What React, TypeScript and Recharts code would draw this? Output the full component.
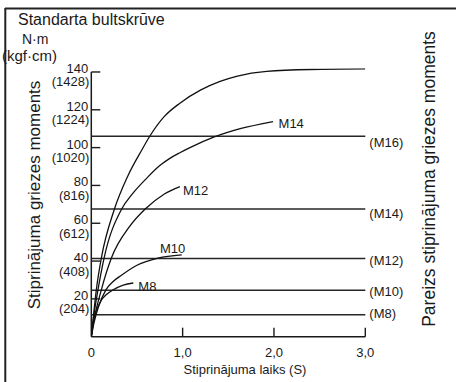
import React from "react";
import { LineChart, Line, XAxis, YAxis, ReferenceLine } from "recharts";

// time (s) / torque (N·m)
const m16Time = [0, 0.03, 0.055, 0.11, 0.25, 0.4, 0.55, 0.64, 0.8, 0.97, 1.2, 1.41, 1.6, 1.92, 2.4, 3.0];
const m16Torque = [0, 14, 24.8, 41.6, 67, 85, 98.5, 106, 116.5, 123.5, 130.5, 135, 137.8, 140.3, 141.3, 141.6];

const m14Time = [0, 0.03, 0.073, 0.14, 0.33, 0.45, 0.61, 0.75, 0.86, 0.97, 1.08, 1.34, 1.63, 1.99];
const m14Torque = [0, 12, 24.8, 41.6, 67.3, 75.5, 84, 90.5, 94.3, 97.3, 100, 105.5, 110, 113.8];

const m12Time = [0, 0.03, 0.11, 0.22, 0.42, 0.59, 0.8, 0.97];
const m12Torque = [0, 9, 24.8, 41.6, 58.3, 67.5, 75.5, 79.4];

const m10Time = [0, 0.03, 0.08, 0.16, 0.23, 0.33, 0.5, 0.73, 0.99];
const m10Torque = [0, 7.5, 16, 24.8, 28.8, 32.5, 37.8, 41.6, 43.3];

const m8Time = [0, 0.02, 0.05, 0.1, 0.17, 0.24, 0.35, 0.46];
const m8Torque = [0, 7, 13, 18.5, 22.5, 24.8, 27.3, 28.4];

// correct tightening torque per bolt
const specNames = ["(M16)", "(M14)", "(M12)", "(M10)", "(M8)"];
const specTorque = [106, 67.5, 41.3, 24.5, 11.6];

const yTicks = [20, 40, 60, 80, 100, 120, 140];
const yKgfLabels = ["(204)", "(408)", "(612)", "(816)", "(1020)", "(1224)", "(1428)"];
const xTicks = [0, 1, 2, 3];
const xTickLabels = ["0", "1,0", "2,0", "3,0"];

const toPoints = (xs: number[], ys: number[]) => xs.map((x, i) => ({ x, y: ys[i] }));

const series = [
  { name: "M16", data: toPoints(m16Time, m16Torque) },
  { name: "M14", data: toPoints(m14Time, m14Torque) },
  { name: "M12", data: toPoints(m12Time, m12Torque) },
  { name: "M10", data: toPoints(m10Time, m10Torque) },
  { name: "M8", data: toPoints(m8Time, m8Torque) },
];

// where each curve's name sits relative to its last point
const endLabelPos: Record<string, { dx: number; dy: number; anchor: string }> = {
  M16: { dx: 2, dy: -10.5, anchor: "end" },
  M14: { dx: 5.5, dy: 6, anchor: "start" },
  M12: { dx: 3, dy: 8.5, anchor: "start" },
  M10: { dx: 3.5, dy: -2, anchor: "end" },
  M8: { dx: 5, dy: 8, anchor: "start" },
};
const specLabelDy = [10.5, 8.5, 6.5, 5.5, 3.5];

const FONT = "'Liberation Sans', Arial, Helvetica, sans-serif";
const INK = "#1a1a1a";

const YTick = (props: any) => {
  const { x, y, payload } = props;
  const i = yTicks.indexOf(payload.value);
  return (
    <g>
      <line x1={x + 3} x2={x + 12} y1={y} y2={y} stroke={INK} strokeWidth={1.4} />
      <text x={x} y={y + 1} textAnchor="end" fontSize={13} fill={INK} fontFamily={FONT}>
        {payload.value}
      </text>
      <text x={x + 1} y={y + 14.5} textAnchor="end" fontSize={13} fill={INK} fontFamily={FONT}>
        {yKgfLabels[i]}
      </text>
    </g>
  );
};

const XTick = (props: any) => {
  const { x, y, payload } = props;
  const i = xTicks.indexOf(payload.value);
  return (
    <g>
      {payload.value !== 0 && (
        <line x1={x} x2={x} y1={y} y2={y - 9} stroke={INK} strokeWidth={1.4} />
      )}
      <text x={x} y={y + 20} textAnchor="middle" fontSize={13} fill={INK} fontFamily={FONT}>
        {xTickLabels[i]}
      </text>
    </g>
  );
};

const SpecLabel = (props: any) => {
  const { viewBox, text, dy } = props;
  if (!viewBox) return null;
  return (
    <text
      x={viewBox.x + viewBox.width + 4}
      y={viewBox.y + dy}
      fontSize={13}
      fill={INK}
      fontFamily={FONT}
    >
      {text}
    </text>
  );
};

const endLabelDot = (name: string, lastIndex: number) => (props: any) => {
  const { cx, cy, index } = props;
  if (index !== lastIndex) return <g key={`d-${name}-${index}`} />;
  const p = endLabelPos[name];
  return (
    <text
      key={`d-${name}-${index}`}
      x={cx + p.dx}
      y={cy + p.dy}
      textAnchor={p.anchor as any}
      fontSize={13}
      fill={INK}
      fontFamily={FONT}
    >
      {name}
    </text>
  );
};

export default function App() {
  return (
    <div
      style={{
        position: "absolute",
        left: 0,
        top: 0,
        width: 456,
        height: 382,
        background: "#fff",
        fontFamily: FONT,
      }}
    >
      <LineChart
        width={456}
        height={382}
        margin={{ top: 68.2, right: 90.7, bottom: 0, left: 0 }}
      >
        <XAxis
          type="number"
          dataKey="x"
          domain={[0, 3]}
          ticks={xTicks}
          allowDataOverflow
          height={45.3}
          tickLine={false}
          tickSize={0}
          tickMargin={0}
          axisLine={{ stroke: INK, strokeWidth: 1.5 }}
          tick={<XTick />}
          interval={0}
        />
        <YAxis
          type="number"
          dataKey="y"
          domain={[0, 142]}
          ticks={yTicks}
          allowDataOverflow
          width={91.3}
          tickLine={false}
          tickSize={0}
          tickMargin={3}
          axisLine={false}
          tick={<YTick />}
          interval={0}
        />
        {/* y axis line stops at the 140 tick */}
        <ReferenceLine
          segment={[
            { x: 0, y: 0 },
            { x: 0, y: yTicks[yTicks.length - 1] },
          ]}
          stroke={INK}
          strokeWidth={1.5}
        />
        {specTorque.map((v, i) => (
          <ReferenceLine
            key={specNames[i]}
            y={v}
            stroke="#262626"
            strokeWidth={1.5}
            label={<SpecLabel text={specNames[i]} dy={specLabelDy[i]} />}
          />
        ))}
        {series.map((s) => (
          <Line
            key={s.name}
            data={s.data}
            dataKey="y"
            type="monotone"
            stroke="#111"
            strokeWidth={1.3}
            dot={endLabelDot(s.name, s.data.length - 1)}
            activeDot={false}
            isAnimationActive={false}
          />
        ))}
      </LineChart>
      <svg
        width={456}
        height={382}
        style={{ position: "absolute", left: 0, top: 0, pointerEvents: "none" }}
      >
        <line x1={5} y1={8.5} x2={456} y2={8.5} stroke="#222" strokeWidth={2} />
        <line x1={5.3} y1={8} x2={5.3} y2={382} stroke="#222" strokeWidth={2} />
        <text x={18} y={24.5} fontSize={16} fill={INK} fontFamily={FONT}>
          Standarta bultskrūve
        </text>
        <text x={22} y={44} fontSize={14} fill={INK} fontFamily={FONT}>
          N·m
        </text>
        <text x={2} y={61} fontSize={15} fill={INK} fontFamily={FONT}>
          (kgf·cm)
        </text>
        <text
          transform="translate(39.5,195) rotate(-90)"
          textAnchor="middle"
          fontSize={17}
          fill={INK}
          fontFamily={FONT}
        >
          Stiprinājuma griezes moments
        </text>
        <text
          transform="translate(434.5,179) rotate(-90)"
          textAnchor="middle"
          fontSize={17.5}
          fill={INK}
          fontFamily={FONT}
        >
          Pareizs stiprinājuma griezes moments
        </text>
        <text x={245} y={373.5} textAnchor="middle" fontSize={13} fill={INK} fontFamily={FONT}>
          Stiprinājuma laiks (S)
        </text>
      </svg>
    </div>
  );
}
